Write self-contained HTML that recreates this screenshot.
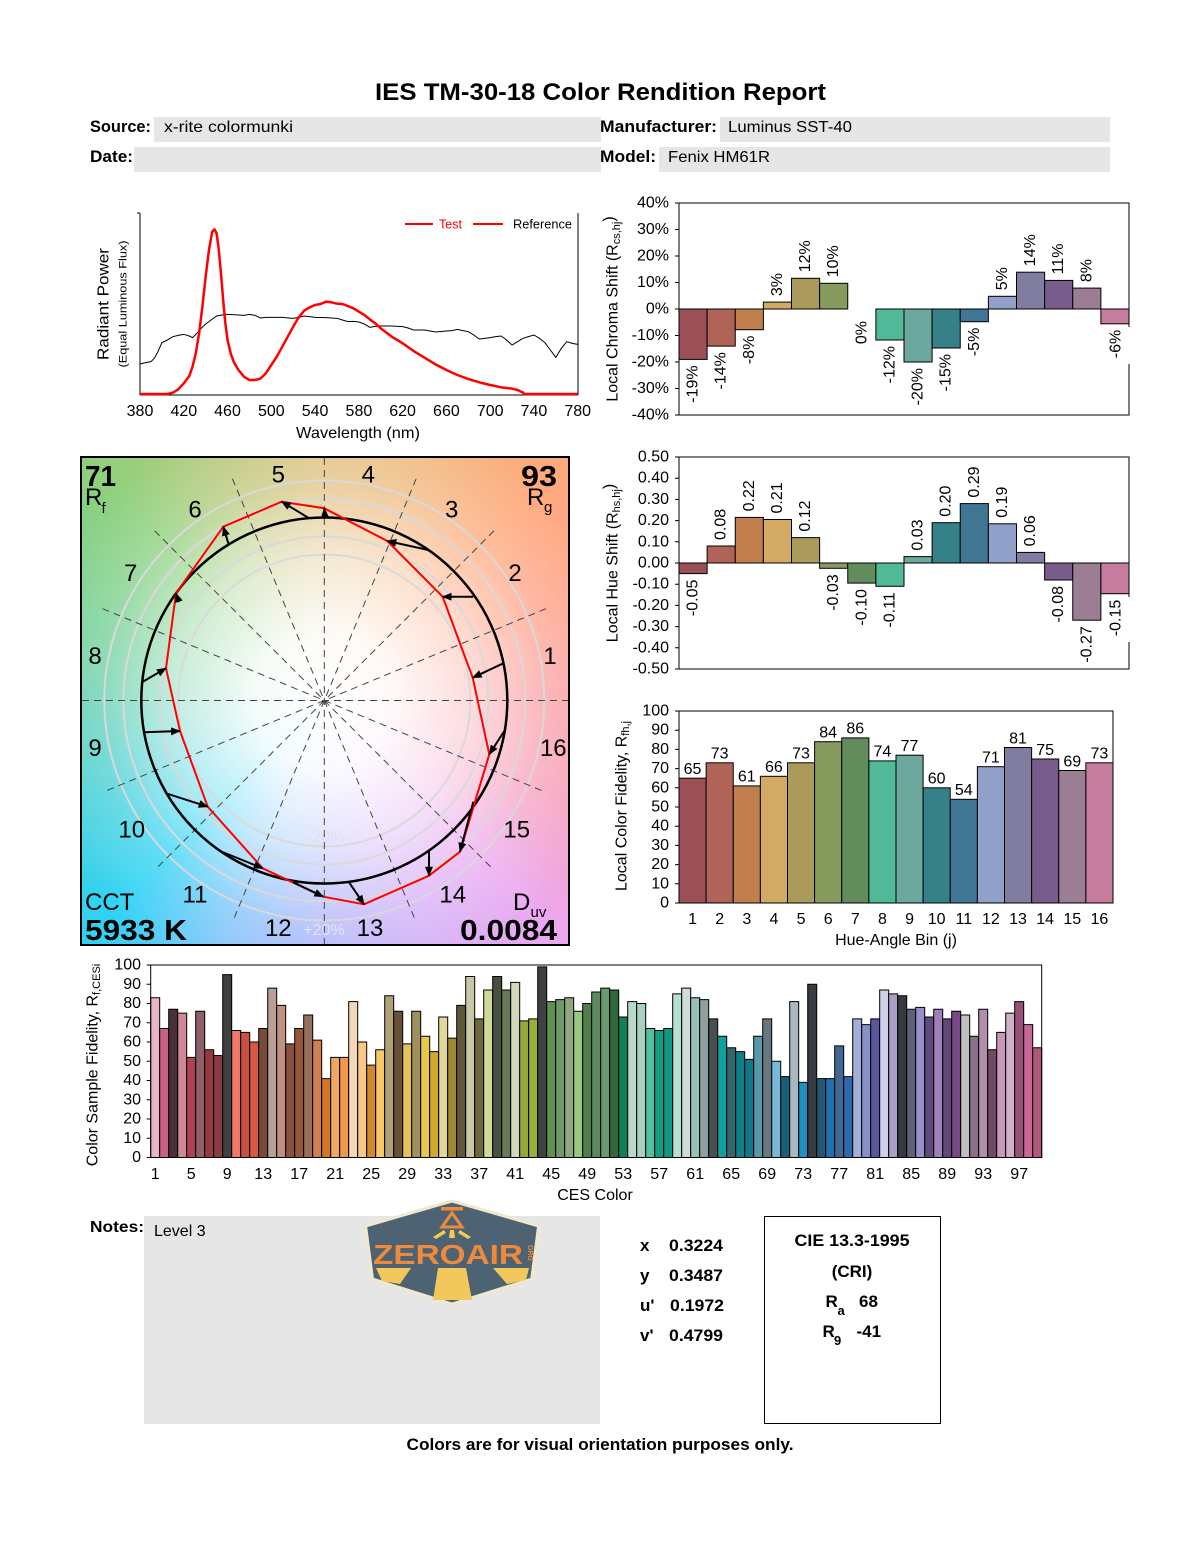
<!DOCTYPE html>
<html><head><meta charset="utf-8">
<style>
html,body{margin:0;padding:0;background:#fff;}
body{width:1200px;height:1550px;position:relative;overflow:hidden;font-family:"Liberation Sans",Arial,sans-serif;}
#cvg{position:absolute;left:80px;top:456px;width:490px;height:490px;box-sizing:border-box;border:2px solid #000;
background:
radial-gradient(circle at 242.3px 242.5px, rgba(255,255,255,1) 0px, rgba(255,255,255,0.93) 70px, rgba(255,255,255,0.62) 150px, rgba(255,255,255,0.25) 220px, rgba(255,255,255,0) 300px),
conic-gradient(from 0deg at 242.3px 242.5px, #e1c080 0deg, #f0b87d 22.5deg, #ffaa7d 45deg, #ffa48c 67.5deg, #faa0a5 90deg, #f8a0bc 112.5deg, #eba8f0 135deg, #d2aff8 157.5deg, #afb4fa 180deg, #82c3fa 202.5deg, #2ed2f5 225deg, #46d0d8 247.5deg, #62cfb0 270deg, #78d090 292.5deg, #8ed07c 315deg, #bcc87a 337.5deg, #e1c080 360deg);}
svg{position:absolute;left:0;top:0;}
.ns{vector-effect:non-scaling-stroke;}
.ces rect{vector-effect:non-scaling-stroke;stroke:#000;stroke-width:1;}
</style></head>
<body>
<div id="cvg"></div>
<svg width="1200" height="1550" viewBox="0 0 1200 1550" xmlns="http://www.w3.org/2000/svg" font-family="Liberation Sans, Arial, sans-serif">
<defs>
<marker id="ah" markerUnits="userSpaceOnUse" markerWidth="10" markerHeight="8" viewBox="0 0 10 8" refX="9" refY="4" orient="auto"><path d="M0,0 L10,4 L0,8 z" fill="#000"/></marker>
</defs>

<!-- Title & header -->
<text x="600.5" y="100" font-size="24" font-weight="bold" text-anchor="middle" textLength="451" lengthAdjust="spacingAndGlyphs">IES TM-30-18 Color Rendition Report</text>
<rect x="154" y="117" width="447" height="25" fill="#e6e6e6"/>
<rect x="720" y="117" width="390" height="25" fill="#e6e6e6"/>
<rect x="134" y="147" width="467" height="25" fill="#e6e6e6"/>
<rect x="659" y="147" width="451" height="25" fill="#e6e6e6"/>
<text x="90" y="132" font-size="16.5" font-weight="bold" textLength="61" lengthAdjust="spacingAndGlyphs">Source:</text>
<text x="164" y="132" font-size="16" textLength="129" lengthAdjust="spacingAndGlyphs">x-rite colormunki</text>
<text x="600" y="132" font-size="16.5" font-weight="bold" textLength="117" lengthAdjust="spacingAndGlyphs">Manufacturer:</text>
<text x="728" y="132" font-size="16" textLength="124" lengthAdjust="spacingAndGlyphs">Luminus SST-40</text>
<text x="90" y="162" font-size="16.5" font-weight="bold" textLength="43" lengthAdjust="spacingAndGlyphs">Date:</text>
<text x="600" y="162" font-size="16.5" font-weight="bold" textLength="56" lengthAdjust="spacingAndGlyphs">Model:</text>
<text x="668" y="162" font-size="16" textLength="102" lengthAdjust="spacingAndGlyphs">Fenix HM61R</text>

<!-- Spectrum chart -->
<g stroke="#000" stroke-width="1" fill="none">
<line x1="140" y1="213" x2="140" y2="395"/>
<line x1="140" y1="395" x2="578" y2="395"/>
<line x1="578" y1="213" x2="578" y2="395"/>
<line x1="137" y1="213" x2="140" y2="213"/>
</g>
<g transform="matrix(1.0943,0,0,0.33333,-275.83,200)" fill="none">
<polyline class="ns" stroke="#000" stroke-width="1" points="380,492 385,488 390,485 393,475 396,458 400,428 405,420 410,410 415,406 420,403 425,408 428,413 432,400 436,385 440,372 445,360 450,348 455,345 460,343 465,344 470,345 475,346 480,343 485,346 490,354 495,352 500,352 510,352 520,355 525,352 530,348 535,350 540,352 550,353 560,355 565,360 570,365 575,364 580,366 585,372 590,382 595,379 600,378 610,378 620,380 625,384 630,390 640,390 650,396 660,393 665,392 670,388 675,392 680,395 685,405 690,417 695,415 700,413 705,410 710,408 715,420 720,435 725,425 730,415 735,410 740,405 745,415 750,428 755,450 760,472 765,445 770,425 775,430 780,433"/>
<polyline class="ns" stroke="#ff0000" stroke-width="2.5" stroke-linejoin="round" points="380,582 405,582 410,578 415,568 420,550 425,528 428,500 431,460 434,400 437,320 440,230 443,150 446,95 448,88 450,100 452,150 454,220 456,300 458,370 460,420 463,462 466,488 470,510 475,530 480,540 485,540 490,536 495,520 500,495 505,470 510,440 515,410 520,380 525,352 530,332 535,322 540,315 545,312 550,305 555,307 560,311 565,312 570,318 575,325 580,335 585,345 590,358 595,370 600,385 610,410 620,430 630,453 640,473 650,493 660,510 670,525 680,537 690,547 700,555 710,562 720,566 725,570 730,578 731,582 780,582"/>
</g>
<line x1="405" y1="224" x2="433" y2="224" stroke="#ff0000" stroke-width="2"/>
<text x="439" y="228.5" font-size="12.5" fill="#ff0000">Test</text>
<line x1="473" y1="224" x2="503" y2="224" stroke="#ff0000" stroke-width="2"/>
<text x="513" y="228.5" font-size="12.5" textLength="59" lengthAdjust="spacingAndGlyphs">Reference</text>
<g font-size="16" text-anchor="middle">
<text x="140" y="416">380</text><text x="183.8" y="416">420</text><text x="227.5" y="416">460</text><text x="271.3" y="416">500</text><text x="315.1" y="416">540</text><text x="358.9" y="416">580</text><text x="402.6" y="416">620</text><text x="446.4" y="416">660</text><text x="490.2" y="416">700</text><text x="533.9" y="416">740</text><text x="577.7" y="416">780</text>
<text x="358" y="438" textLength="124" lengthAdjust="spacingAndGlyphs">Wavelength (nm)</text>
</g>
<text transform="translate(104,304) rotate(-90)" font-size="16" text-anchor="middle" dominant-baseline="central" textLength="112" lengthAdjust="spacingAndGlyphs">Radiant Power</text>
<text transform="translate(123.5,304) rotate(-90)" font-size="11" text-anchor="middle" dominant-baseline="central" textLength="127" lengthAdjust="spacingAndGlyphs">(Equal Luminous Flux)</text>

<!-- Chroma shift chart -->
<g stroke="#000" stroke-width="1">
<rect x="679" y="309" width="28.125" height="50.4" fill="#9b5058"/>
<rect x="707.125" y="309" width="28.125" height="37.1" fill="#af6457"/>
<rect x="735.25" y="309" width="28.125" height="20.7" fill="#c17f4e"/>
<rect x="763.375" y="302.1" width="28.125" height="6.9" fill="#d2aa64"/>
<rect x="791.5" y="278.3" width="28.125" height="30.7" fill="#aa9b5c"/>
<rect x="819.625" y="283.3" width="28.125" height="25.7" fill="#889b5e"/>
<rect x="875.875" y="309" width="28.125" height="31" fill="#52b998"/>
<rect x="904" y="309" width="28.125" height="53" fill="#6ca89e"/>
<rect x="932.125" y="309" width="28.125" height="39" fill="#368087"/>
<rect x="960.25" y="309" width="28.125" height="12.7" fill="#407694"/>
<rect x="988.375" y="296.3" width="28.125" height="12.7" fill="#91a0c8"/>
<rect x="1016.5" y="272.2" width="28.125" height="36.8" fill="#807da0"/>
<rect x="1044.625" y="280.4" width="28.125" height="28.6" fill="#785c8c"/>
<rect x="1072.75" y="288.1" width="28.125" height="20.9" fill="#9b7d94"/>
<rect x="1100.875" y="309" width="28.125" height="14.8" fill="#c67c9c"/>
<rect x="679" y="203" width="450" height="212" fill="none"/>
<path d="M675,203H679M675,229.5H679M675,256H679M675,282.5H679M675,309H679M675,335.5H679M675,362H679M675,388.5H679M675,415H679"/>
</g>
<rect x="1106" y="327" width="27" height="37" fill="#fff"/>
<g font-size="16" text-anchor="end" dominant-baseline="central">
<text x="669" y="203">40%</text><text x="669" y="229.5">30%</text><text x="669" y="256">20%</text><text x="669" y="282.5">10%</text><text x="669" y="309">0%</text><text x="669" y="335.5">-10%</text><text x="669" y="362">-20%</text><text x="669" y="388.5">-30%</text><text x="669" y="415">-40%</text>
</g>
<g font-size="16" dominant-baseline="central">
<text transform="translate(693.06,365.4) rotate(-90)" text-anchor="end">-19%</text>
<text transform="translate(721.19,352.1) rotate(-90)" text-anchor="end">-14%</text>
<text transform="translate(749.31,335.7) rotate(-90)" text-anchor="end">-8%</text>
<text transform="translate(777.44,296.1) rotate(-90)">3%</text>
<text transform="translate(805.56,272.3) rotate(-90)">12%</text>
<text transform="translate(833.69,277.3) rotate(-90)">10%</text>
<text transform="translate(861.81,321) rotate(-90)" text-anchor="end">0%</text>
<text transform="translate(889.94,346) rotate(-90)" text-anchor="end">-12%</text>
<text transform="translate(918.06,368) rotate(-90)" text-anchor="end">-20%</text>
<text transform="translate(946.19,354) rotate(-90)" text-anchor="end">-15%</text>
<text transform="translate(974.31,327.7) rotate(-90)" text-anchor="end">-5%</text>
<text transform="translate(1002.44,290.3) rotate(-90)">5%</text>
<text transform="translate(1030.56,266.2) rotate(-90)">14%</text>
<text transform="translate(1058.69,274.4) rotate(-90)">11%</text>
<text transform="translate(1086.81,282.1) rotate(-90)">8%</text>
<text transform="translate(1116,329.8) rotate(-90)" text-anchor="end">-6%</text>
</g>
<text transform="translate(613,309) rotate(-90)" font-size="16" text-anchor="middle" dominant-baseline="central">Local Chroma Shift (R<tspan font-size="11" dy="4">cs,hj</tspan><tspan dy="-8">)</tspan></text>

<!-- Hue shift chart -->
<g stroke="#000" stroke-width="1">
<rect x="679" y="563" width="28.125" height="10.6" fill="#9b5058"/>
<rect x="707.125" y="546" width="28.125" height="17" fill="#af6457"/>
<rect x="735.25" y="517.4" width="28.125" height="45.6" fill="#c17f4e"/>
<rect x="763.375" y="519.5" width="28.125" height="43.5" fill="#d2aa64"/>
<rect x="791.5" y="537.6" width="28.125" height="25.4" fill="#aa9b5c"/>
<rect x="819.625" y="563" width="28.125" height="5.3" fill="#889b5e"/>
<rect x="847.75" y="563" width="28.125" height="20.1" fill="#628c5c"/>
<rect x="875.875" y="563" width="28.125" height="23.3" fill="#52b998"/>
<rect x="904" y="556.6" width="28.125" height="6.4" fill="#6ca89e"/>
<rect x="932.125" y="522.7" width="28.125" height="40.3" fill="#368087"/>
<rect x="960.25" y="503.6" width="28.125" height="59.4" fill="#407694"/>
<rect x="988.375" y="523.8" width="28.125" height="39.2" fill="#91a0c8"/>
<rect x="1016.5" y="552.4" width="28.125" height="10.6" fill="#807da0"/>
<rect x="1044.625" y="563" width="28.125" height="17" fill="#785c8c"/>
<rect x="1072.75" y="563" width="28.125" height="57.2" fill="#9b7d94"/>
<rect x="1100.875" y="563" width="28.125" height="30.7" fill="#c67c9c"/>
<rect x="679" y="457" width="450" height="212" fill="none"/>
<path d="M675,457H679M675,478.2H679M675,499.4H679M675,520.6H679M675,541.8H679M675,563H679M675,584.2H679M675,605.4H679M675,626.6H679M675,647.8H679M675,669H679"/>
</g>
<rect x="1106" y="597" width="27" height="45" fill="#fff"/>
<g font-size="16" text-anchor="end" dominant-baseline="central">
<text x="669" y="457">0.50</text><text x="669" y="478.2">0.40</text><text x="669" y="499.4">0.30</text><text x="669" y="520.6">0.20</text><text x="669" y="541.8">0.10</text><text x="669" y="563">0.00</text><text x="669" y="584.2">-0.10</text><text x="669" y="605.4">-0.20</text><text x="669" y="626.6">-0.30</text><text x="669" y="647.8">-0.40</text><text x="669" y="669">-0.50</text>
</g>
<g font-size="16" dominant-baseline="central">
<text transform="translate(693.06,579.6) rotate(-90)" text-anchor="end">-0.05</text>
<text transform="translate(721.19,540) rotate(-90)">0.08</text>
<text transform="translate(749.31,511.4) rotate(-90)">0.22</text>
<text transform="translate(777.44,513.5) rotate(-90)">0.21</text>
<text transform="translate(805.56,531.6) rotate(-90)">0.12</text>
<text transform="translate(833.69,574.3) rotate(-90)" text-anchor="end">-0.03</text>
<text transform="translate(861.81,589.1) rotate(-90)" text-anchor="end">-0.10</text>
<text transform="translate(889.94,592.3) rotate(-90)" text-anchor="end">-0.11</text>
<text transform="translate(918.06,550.6) rotate(-90)">0.03</text>
<text transform="translate(946.19,516.7) rotate(-90)">0.20</text>
<text transform="translate(974.31,497.6) rotate(-90)">0.29</text>
<text transform="translate(1002.44,517.8) rotate(-90)">0.19</text>
<text transform="translate(1030.56,546.4) rotate(-90)">0.06</text>
<text transform="translate(1058.69,586) rotate(-90)" text-anchor="end">-0.08</text>
<text transform="translate(1086.81,626.2) rotate(-90)" text-anchor="end">-0.27</text>
<text transform="translate(1116,599.7) rotate(-90)" text-anchor="end">-0.15</text>
</g>
<text transform="translate(613,563) rotate(-90)" font-size="16" text-anchor="middle" dominant-baseline="central">Local Hue Shift (R<tspan font-size="11" dy="4">hs,hj</tspan><tspan dy="-8">)</tspan></text>

<!-- Fidelity by hue chart -->
<g stroke="#000" stroke-width="1">
<rect x="679" y="778.2" width="27.125" height="124.8" fill="#9b5058"/>
<rect x="706.125" y="762.8" width="27.125" height="140.2" fill="#af6457"/>
<rect x="733.25" y="785.9" width="27.125" height="117.1" fill="#c17f4e"/>
<rect x="760.375" y="776.3" width="27.125" height="126.7" fill="#d2aa64"/>
<rect x="787.5" y="762.8" width="27.125" height="140.2" fill="#aa9b5c"/>
<rect x="814.625" y="741.7" width="27.125" height="161.3" fill="#889b5e"/>
<rect x="841.75" y="737.9" width="27.125" height="165.1" fill="#628c5c"/>
<rect x="868.875" y="760.9" width="27.125" height="142.1" fill="#52b998"/>
<rect x="896" y="755.2" width="27.125" height="147.8" fill="#6ca89e"/>
<rect x="923.125" y="787.8" width="27.125" height="115.2" fill="#368087"/>
<rect x="950.25" y="799.3" width="27.125" height="103.7" fill="#407694"/>
<rect x="977.375" y="766.7" width="27.125" height="136.3" fill="#91a0c8"/>
<rect x="1004.5" y="747.5" width="27.125" height="155.5" fill="#807da0"/>
<rect x="1031.625" y="759" width="27.125" height="144" fill="#785c8c"/>
<rect x="1058.75" y="770.5" width="27.125" height="132.5" fill="#9b7d94"/>
<rect x="1085.875" y="762.8" width="27.125" height="140.2" fill="#c67c9c"/>
<rect x="679" y="711" width="434" height="192" fill="none"/>
<path d="M675,711H679M675,730.2H679M675,749.4H679M675,768.6H679M675,787.8H679M675,807H679M675,826.2H679M675,845.4H679M675,864.6H679M675,883.8H679M675,903H679"/>
</g>
<g font-size="16" text-anchor="end" dominant-baseline="central">
<text x="669" y="711">100</text><text x="669" y="730.2">90</text><text x="669" y="749.4">80</text><text x="669" y="768.6">70</text><text x="669" y="787.8">60</text><text x="669" y="807">50</text><text x="669" y="826.2">40</text><text x="669" y="845.4">30</text><text x="669" y="864.6">20</text><text x="669" y="883.8">10</text><text x="669" y="903">0</text>
</g>
<g font-size="16" text-anchor="middle">
<text x="692.56" y="774">65</text><text x="719.69" y="758.6">73</text><text x="746.81" y="781.7">61</text><text x="773.94" y="772.1">66</text><text x="801.06" y="758.6">73</text><text x="828.19" y="737.5">84</text><text x="855.31" y="733.7">86</text><text x="882.44" y="756.7">74</text><text x="909.56" y="751">77</text><text x="936.69" y="783.6">60</text><text x="963.81" y="795.1">54</text><text x="990.94" y="762.5">71</text><text x="1018.06" y="743.3">81</text><text x="1045.19" y="754.8">75</text><text x="1072.31" y="766.3">69</text><text x="1099.44" y="758.6">73</text>
<text x="692.56" y="924">1</text><text x="719.69" y="924">2</text><text x="746.81" y="924">3</text><text x="773.94" y="924">4</text><text x="801.06" y="924">5</text><text x="828.19" y="924">6</text><text x="855.31" y="924">7</text><text x="882.44" y="924">8</text><text x="909.56" y="924">9</text><text x="936.69" y="924">10</text><text x="963.81" y="924">11</text><text x="990.94" y="924">12</text><text x="1018.06" y="924">13</text><text x="1045.19" y="924">14</text><text x="1072.31" y="924">15</text><text x="1099.44" y="924">16</text>
<text x="896" y="945">Hue-Angle Bin (j)</text>
</g>
<text transform="translate(622,806) rotate(-90)" font-size="16" text-anchor="middle" dominant-baseline="central">Local Color Fidelity, R<tspan font-size="11" dy="4">fh,j</tspan></text>

<!-- Color vector graphic -->
<g fill="none" stroke="#d9d9d9" stroke-width="2">
<circle cx="324.3" cy="700.5" r="146"/>
<circle cx="324.3" cy="700.5" r="164"/>
<circle cx="324.3" cy="700.5" r="183"/>
<circle cx="324.3" cy="700.5" r="201"/>
<circle cx="324.3" cy="700.5" r="220"/>
</g>
<g stroke="#444" stroke-width="1" stroke-dasharray="7,5" fill="none">
<line x1="82" y1="700.5" x2="568" y2="700.5"/>
<line x1="324.3" y1="458" x2="324.3" y2="944"/>
<line x1="546.03" y1="608.66" x2="102.57" y2="792.34"/>
<line x1="494.01" y1="530.79" x2="154.59" y2="870.21"/>
<line x1="416.14" y1="478.77" x2="232.46" y2="922.23"/>
<line x1="232.46" y1="478.77" x2="416.14" y2="922.23"/>
<line x1="154.59" y1="530.79" x2="494.01" y2="870.21"/>
<line x1="102.57" y1="608.66" x2="546.03" y2="792.34"/>
</g>
<circle cx="324.3" cy="700.5" r="183" fill="none" stroke="#000" stroke-width="2.5"/>
<polygon fill="none" stroke="#ff0000" stroke-width="2" stroke-linejoin="round" points="472.7,677.7 442.7,596.7 387.3,541 324.3,508.3 281.7,501.7 223.3,526.7 176,593.3 166,668.3 180,731 207.7,806.7 262.7,868.3 323.3,896.7 364,904.3 429,875.7 460,851.7 489.3,754.3"/>
<g stroke="#000" stroke-width="2" marker-end="url(#ah)">
<line x1="503.3" y1="663.3" x2="472.7" y2="677.7"/>
<line x1="473.3" y1="596.7" x2="442.7" y2="596.7"/>
<line x1="428.3" y1="550" x2="387.3" y2="541"/>
<line x1="325" y1="518.3" x2="324.3" y2="508.3"/>
<line x1="309.3" y1="518.3" x2="281.7" y2="501.7"/>
<line x1="228.3" y1="543.3" x2="223.3" y2="526.7"/>
<line x1="179" y1="602" x2="176" y2="593.3"/>
<line x1="142.7" y1="681.7" x2="166" y2="668.3"/>
<line x1="144" y1="732.3" x2="180" y2="731"/>
<line x1="166" y1="793.3" x2="207.7" y2="806.7"/>
<line x1="220" y1="851" x2="262.7" y2="868.3"/>
<line x1="293.3" y1="882.3" x2="323.3" y2="896.7"/>
<line x1="349.3" y1="882.7" x2="364" y2="904.3"/>
<line x1="429" y1="851" x2="429" y2="875.7"/>
<line x1="473.3" y1="801.7" x2="460" y2="851.7"/>
<line x1="504.3" y1="731" x2="489.3" y2="754.3"/>
</g>
<g font-size="24" text-anchor="middle" dominant-baseline="central">
<text x="550" y="656.7">1</text><text x="515" y="573.3">2</text><text x="451.7" y="510">3</text><text x="368.3" y="475">4</text><text x="278.3" y="475">5</text><text x="195" y="510">6</text><text x="130.7" y="573.3">7</text><text x="95" y="656.7">8</text><text x="95" y="748.3">9</text><text x="131.7" y="830">10</text><text x="195" y="895">11</text><text x="278.3" y="928.3">12</text><text x="370" y="928.3">13</text><text x="452.7" y="895">14</text><text x="516.7" y="830">15</text><text x="553.3" y="748.3">16</text>
</g>
<text x="324" y="935" font-size="16" text-anchor="middle" fill="#fff" fill-opacity="0.55">+20%</text>
<text x="326" y="842" font-size="16" text-anchor="middle" fill="#ccc" fill-opacity="0.3">-20%</text>
<text x="85" y="486" font-size="29" font-weight="bold" textLength="31" lengthAdjust="spacingAndGlyphs">71</text>
<text x="85" y="505" font-size="24">R</text><text x="101.5" y="513" font-size="15">f</text>
<text x="521" y="486" font-size="29" font-weight="bold" textLength="36" lengthAdjust="spacingAndGlyphs">93</text>
<text x="527" y="505" font-size="24">R</text><text x="544" y="512" font-size="15">g</text>
<text x="85" y="910" font-size="24">CCT</text>
<text x="85" y="940" font-size="29" font-weight="bold" textLength="102" lengthAdjust="spacingAndGlyphs">5933 K</text>
<text x="513" y="910" font-size="24">D</text><text x="530.5" y="917" font-size="15">uv</text>
<text x="460" y="940" font-size="29" font-weight="bold" textLength="97" lengthAdjust="spacingAndGlyphs">0.0084</text>

<!-- CES chart -->
<g class="ces" transform="translate(150.7,1157.5) scale(9,-1.925)">
<rect x="0" y="0" width="1" height="83" fill="#e8b4c8"/>
<rect x="1" y="0" width="1" height="67" fill="#c86088"/>
<rect x="2" y="0" width="1" height="77" fill="#4a3038"/>
<rect x="3" y="0" width="1" height="75" fill="#d08898"/>
<rect x="4" y="0" width="1" height="52" fill="#b04058"/>
<rect x="5" y="0" width="1" height="76" fill="#906068"/>
<rect x="6" y="0" width="1" height="56" fill="#983840"/>
<rect x="7" y="0" width="1" height="53" fill="#8a3a40"/>
<rect x="8" y="0" width="1" height="95" fill="#404040"/>
<rect x="9" y="0" width="1" height="66" fill="#f07868"/>
<rect x="10" y="0" width="1" height="65" fill="#c85040"/>
<rect x="11" y="0" width="1" height="60" fill="#d85840"/>
<rect x="12" y="0" width="1" height="67" fill="#7a4a38"/>
<rect x="13" y="0" width="1" height="88" fill="#b8a098"/>
<rect x="14" y="0" width="1" height="79" fill="#c09080"/>
<rect x="15" y="0" width="1" height="59" fill="#8a5040"/>
<rect x="16" y="0" width="1" height="67" fill="#985838"/>
<rect x="17" y="0" width="1" height="74" fill="#987060"/>
<rect x="18" y="0" width="1" height="61" fill="#d08050"/>
<rect x="19" y="0" width="1" height="41" fill="#d07828"/>
<rect x="20" y="0" width="1" height="52" fill="#f0a860"/>
<rect x="21" y="0" width="1" height="52" fill="#f09848"/>
<rect x="22" y="0" width="1" height="81" fill="#f0d8b8"/>
<rect x="23" y="0" width="1" height="60" fill="#f8c888"/>
<rect x="24" y="0" width="1" height="48" fill="#d08828"/>
<rect x="25" y="0" width="1" height="56" fill="#f8c868"/>
<rect x="26" y="0" width="1" height="84" fill="#b0a078"/>
<rect x="27" y="0" width="1" height="76" fill="#685038"/>
<rect x="28" y="0" width="1" height="59" fill="#e8c058"/>
<rect x="29" y="0" width="1" height="76" fill="#a09060"/>
<rect x="30" y="0" width="1" height="63" fill="#e8c848"/>
<rect x="31" y="0" width="1" height="55" fill="#d0a830"/>
<rect x="32" y="0" width="1" height="73" fill="#e0d898"/>
<rect x="33" y="0" width="1" height="62" fill="#a08830"/>
<rect x="34" y="0" width="1" height="79" fill="#605838"/>
<rect x="35" y="0" width="1" height="94" fill="#c8c8a8"/>
<rect x="36" y="0" width="1" height="72" fill="#706838"/>
<rect x="37" y="0" width="1" height="87" fill="#d0d898"/>
<rect x="38" y="0" width="1" height="94" fill="#485040"/>
<rect x="39" y="0" width="1" height="87" fill="#687858"/>
<rect x="40" y="0" width="1" height="91" fill="#d0d8b8"/>
<rect x="41" y="0" width="1" height="71" fill="#98a838"/>
<rect x="42" y="0" width="1" height="72" fill="#98b038"/>
<rect x="43" y="0" width="1" height="99" fill="#404040"/>
<rect x="44" y="0" width="1" height="81" fill="#609050"/>
<rect x="45" y="0" width="1" height="82" fill="#709868"/>
<rect x="46" y="0" width="1" height="83" fill="#90a880"/>
<rect x="47" y="0" width="1" height="76" fill="#98c880"/>
<rect x="48" y="0" width="1" height="80" fill="#508048"/>
<rect x="49" y="0" width="1" height="86" fill="#5a8a60"/>
<rect x="50" y="0" width="1" height="88" fill="#6a9870"/>
<rect x="51" y="0" width="1" height="87" fill="#306838"/>
<rect x="52" y="0" width="1" height="73" fill="#10805a"/>
<rect x="53" y="0" width="1" height="81" fill="#b8d8c8"/>
<rect x="54" y="0" width="1" height="80" fill="#a8d0c0"/>
<rect x="55" y="0" width="1" height="67" fill="#50c0a0"/>
<rect x="56" y="0" width="1" height="66" fill="#10a080"/>
<rect x="57" y="0" width="1" height="67" fill="#109880"/>
<rect x="58" y="0" width="1" height="85" fill="#b8e0d0"/>
<rect x="59" y="0" width="1" height="88" fill="#d0dcd8"/>
<rect x="60" y="0" width="1" height="83" fill="#98c0b8"/>
<rect x="61" y="0" width="1" height="82" fill="#90a0a0"/>
<rect x="62" y="0" width="1" height="72" fill="#485050"/>
<rect x="63" y="0" width="1" height="63" fill="#10a0a0"/>
<rect x="64" y="0" width="1" height="57" fill="#306870"/>
<rect x="65" y="0" width="1" height="55" fill="#108088"/>
<rect x="66" y="0" width="1" height="51" fill="#107888"/>
<rect x="67" y="0" width="1" height="63" fill="#5898a8"/>
<rect x="68" y="0" width="1" height="72" fill="#687880"/>
<rect x="69" y="0" width="1" height="50" fill="#78b8d8"/>
<rect x="70" y="0" width="1" height="42" fill="#186078"/>
<rect x="71" y="0" width="1" height="81" fill="#a8b8c0"/>
<rect x="72" y="0" width="1" height="39" fill="#2090c0"/>
<rect x="73" y="0" width="1" height="90" fill="#383c40"/>
<rect x="74" y="0" width="1" height="41" fill="#205878"/>
<rect x="75" y="0" width="1" height="41" fill="#2070b0"/>
<rect x="76" y="0" width="1" height="58" fill="#406890"/>
<rect x="77" y="0" width="1" height="42" fill="#3068b0"/>
<rect x="78" y="0" width="1" height="72" fill="#a0b0d8"/>
<rect x="79" y="0" width="1" height="69" fill="#8890c8"/>
<rect x="80" y="0" width="1" height="72" fill="#5858a0"/>
<rect x="81" y="0" width="1" height="87" fill="#d0d0e8"/>
<rect x="82" y="0" width="1" height="85" fill="#a8a0c8"/>
<rect x="83" y="0" width="1" height="84" fill="#383840"/>
<rect x="84" y="0" width="1" height="77" fill="#606078"/>
<rect x="85" y="0" width="1" height="78" fill="#9890c8"/>
<rect x="86" y="0" width="1" height="73" fill="#604880"/>
<rect x="87" y="0" width="1" height="77" fill="#a080b8"/>
<rect x="88" y="0" width="1" height="72" fill="#604878"/>
<rect x="89" y="0" width="1" height="76" fill="#784888"/>
<rect x="90" y="0" width="1" height="74" fill="#c0c0c0"/>
<rect x="91" y="0" width="1" height="63" fill="#887088"/>
<rect x="92" y="0" width="1" height="77" fill="#b090a8"/>
<rect x="93" y="0" width="1" height="56" fill="#704868"/>
<rect x="94" y="0" width="1" height="65" fill="#c898b8"/>
<rect x="95" y="0" width="1" height="75" fill="#d0b0c8"/>
<rect x="96" y="0" width="1" height="81" fill="#985078"/>
<rect x="97" y="0" width="1" height="69" fill="#c86898"/>
<rect x="98" y="0" width="1" height="57" fill="#b05878"/>
</g>
<g stroke="#000" stroke-width="1" fill="none">
<rect x="150.7" y="965" width="891" height="192.5"/>
<path d="M146.7,965H150.7M146.7,984.25H150.7M146.7,1003.5H150.7M146.7,1022.75H150.7M146.7,1042H150.7M146.7,1061.25H150.7M146.7,1080.5H150.7M146.7,1099.75H150.7M146.7,1119H150.7M146.7,1138.25H150.7M146.7,1157.5H150.7"/>
</g>
<g font-size="16" text-anchor="end" dominant-baseline="central">
<text x="141" y="965">100</text><text x="141" y="984.25">90</text><text x="141" y="1003.5">80</text><text x="141" y="1022.75">70</text><text x="141" y="1042">60</text><text x="141" y="1061.25">50</text><text x="141" y="1080.5">40</text><text x="141" y="1099.75">30</text><text x="141" y="1119">20</text><text x="141" y="1138.25">10</text><text x="141" y="1157.5">0</text>
</g>
<g font-size="16" text-anchor="middle">
<text x="155.2" y="1179">1</text><text x="191.2" y="1179">5</text><text x="227.2" y="1179">9</text><text x="263.2" y="1179">13</text><text x="299.2" y="1179">17</text><text x="335.2" y="1179">21</text><text x="371.2" y="1179">25</text><text x="407.2" y="1179">29</text><text x="443.2" y="1179">33</text><text x="479.2" y="1179">37</text><text x="515.2" y="1179">41</text><text x="551.2" y="1179">45</text><text x="587.2" y="1179">49</text><text x="623.2" y="1179">53</text><text x="659.2" y="1179">57</text><text x="695.2" y="1179">61</text><text x="731.2" y="1179">65</text><text x="767.2" y="1179">69</text><text x="803.2" y="1179">73</text><text x="839.2" y="1179">77</text><text x="875.2" y="1179">81</text><text x="911.2" y="1179">85</text><text x="947.2" y="1179">89</text><text x="983.2" y="1179">93</text><text x="1019.2" y="1179">97</text>
<text x="595" y="1200">CES Color</text>
</g>
<text transform="translate(93,1065) rotate(-90)" font-size="16" text-anchor="middle" dominant-baseline="central">Color Sample Fidelity, R<tspan font-size="11" dy="4">f,CESi</tspan></text>

<!-- Notes -->
<rect x="144" y="1216" width="456" height="208" fill="#e6e6e6"/>
<text x="90" y="1232" font-size="16" font-weight="bold" textLength="54" lengthAdjust="spacingAndGlyphs">Notes:</text>
<text x="154" y="1236" font-size="16">Level 3</text>

<!-- Logo -->
<polygon points="452,1201 538.6,1226 531.7,1279 452,1304 372.5,1279 365.6,1226" fill="#4d6272" stroke="#efe8cf" stroke-width="3" stroke-linejoin="round"/>
<rect x="441" y="1207" width="22" height="3.5" fill="#ee8a3a"/>
<polygon points="452,1213 462,1227 442,1227" fill="none" stroke="#ee8a3a" stroke-width="3"/>
<polygon points="433,1237 444,1230 446,1233 436,1239" fill="#f3c85a"/>
<polygon points="450,1230 454,1230 455,1238 449,1238" fill="#f3c85a"/>
<polygon points="471,1237 460,1230 458,1233 468,1239" fill="#f3c85a"/>
<text x="448" y="1264" font-size="28" font-weight="bold" fill="#ee8a3a" text-anchor="middle" textLength="150" lengthAdjust="spacingAndGlyphs">ZEROAIR</text>
<text transform="translate(528,1253) rotate(90)" font-size="7" font-weight="bold" fill="#ee8a3a" text-anchor="middle">ORG</text>
<polygon points="376,1268 411,1268 400,1284 382,1281" fill="#f3c85a"/>
<polygon points="438,1268 466,1268 472,1300 433,1300" fill="#f3c85a"/>
<polygon points="493,1268 529,1268 526,1280 507,1284" fill="#f3c85a"/>

<!-- Chromaticity values -->
<g font-size="17" font-weight="bold">
<text x="640" y="1251">x</text><text x="669" y="1251" textLength="54" lengthAdjust="spacingAndGlyphs">0.3224</text>
<text x="640" y="1281">y</text><text x="669" y="1281" textLength="54" lengthAdjust="spacingAndGlyphs">0.3487</text>
<text x="640" y="1311">u'</text><text x="670" y="1311" textLength="54" lengthAdjust="spacingAndGlyphs">0.1972</text>
<text x="640" y="1341">v'</text><text x="669" y="1341" textLength="54" lengthAdjust="spacingAndGlyphs">0.4799</text>
</g>

<!-- CRI box -->
<rect x="764.5" y="1216.5" width="176" height="207" fill="none" stroke="#000" stroke-width="1"/>
<g font-weight="bold" font-size="17">
<text x="852" y="1246" text-anchor="middle" textLength="115" lengthAdjust="spacingAndGlyphs">CIE 13.3-1995</text>
<text x="852" y="1277" text-anchor="middle">(CRI)</text>
<text x="825.5" y="1307">R</text><text x="837.5" y="1315" font-size="13">a</text><text x="859" y="1307">68</text>
<text x="822.5" y="1337">R</text><text x="834" y="1345" font-size="13">9</text><text x="856.5" y="1337">-41</text>
</g>

<text x="600" y="1450" font-size="16.5" font-weight="bold" text-anchor="middle" textLength="387" lengthAdjust="spacingAndGlyphs">Colors are for visual orientation purposes only.</text>
</svg>
</body></html>
